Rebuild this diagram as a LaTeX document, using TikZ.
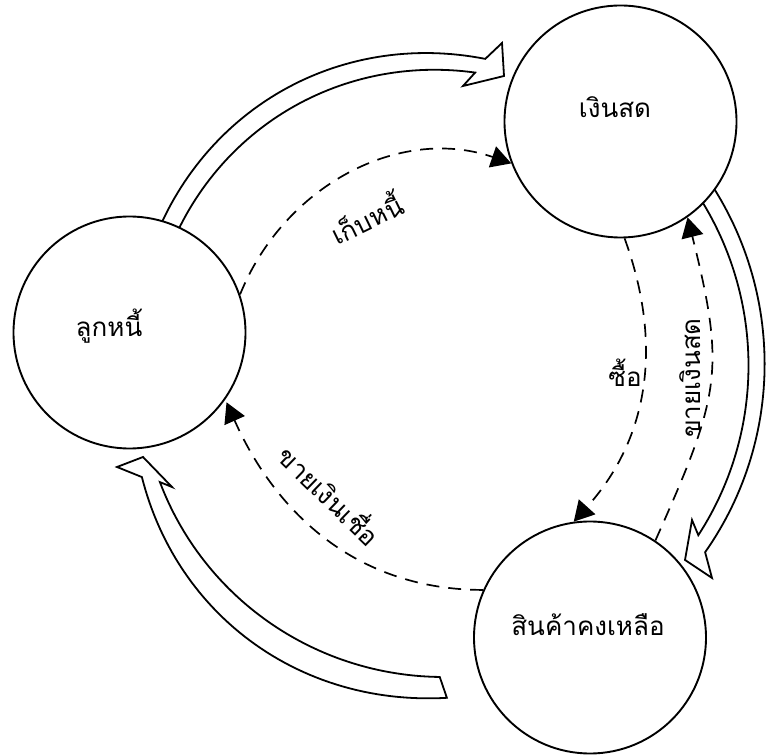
\documentclass[tikz,border=0pt]{standalone}
\usepackage{fontspec}
\newfontfamily\thaifont[Script=Thai]{Loma}
\usetikzlibrary{arrows.meta}
\begin{document}
\begin{tikzpicture}[x=1pt,y=1pt,
  circ/.style={circle, draw, line width=1.9pt, fill=white, minimum size=232pt, inner sep=0pt},
  lbl/.style={font=\thaifont\fontsize{26}{30}\selectfont, inner sep=0pt},
  hollow/.style={line width=1.8pt, line join=miter},
  flow/.style={line width=1.7pt, dash pattern=on 13pt off 9pt, -{Triangle[length=20pt,width=22pt]}}
]
\useasboundingbox (0,0) rectangle (767,755);
% hollow arrows
\draw[hollow] plot[domain=153:81, samples=60, variable=\t]
  ({436+(311+4*(153-\t)/72+6*sin(180*(153-\t)/72))*cos(\t)}, {385+(311+4*(153-\t)/72+6*sin(180*(153-\t)/72))*sin(\t)})
  -- (502,712) -- (504,679) -- (463,669)
  -- plot[domain=82.5:153, samples=60, variable=\t]
  ({436+(300-7*(\t-82.5)/70.5+3*sin(180*(153-\t)/70.5))*cos(\t)}, {385+(300-7*(\t-82.5)/70.5+3*sin(180*(153-\t)/70.5))*sin(\t)});
\draw[hollow] plot[domain=33:-34.1, samples=60, variable=\t]
  ({436+(332-7*(33-\t)/67.1)*cos(\t)}, {385+(332-7*(33-\t)/67.1)*sin(\t)})
  -- (712,177) -- (685,195) -- (692,235)
  -- plot[domain=-32.2:33, samples=60, variable=\t]
  ({436+(310+5*(\t+32.2)/65.2)*cos(\t)}, {385+(310+5*(\t+32.2)/65.2)*sin(\t)});
\draw[hollow] plot[domain=-88.1:-160, samples=60, variable=\t]
  ({436+(328-15*(-88.1-\t)/71.9+8*sin(180*(-88.1-\t)/71.9))*cos(\t)}, {385+(328-15*(-88.1-\t)/71.9+8*sin(180*(-88.1-\t)/71.9))*sin(\t)})
  -- (117,288) -- (143,298) -- (172,268)
  -- plot[domain=-157.9:-89.3, samples=60, variable=\t]
  ({436+(298+9*(\t+157.9)/68.6)*cos(\t)}, {385+(298+9*(\t+157.9)/68.6)*sin(\t)})
  -- cycle;
% circles
\node[circ] (cash) at (620.5,633.5) {};
\node[circ] (ar) at (129.5,422.5) {};
\node[circ] (inv) at (590,117.5) {};
% texts
\node[lbl] (tcash) at (615,648) {เงินสด};
\node[lbl] (tar) at (109,429) {ลูกหนี้};
\node[lbl] (tinv) at (588,130) {สินค้าคงเหลือ};
\node[lbl, rotate=26] (lcollect) at (366,538) {เก็บหนี้};
\node[lbl] (lbuy) at (625,382) {ซื้อ};
\node[lbl, rotate=90] (lsell) at (690,377) {ขายเงินสด};
\node[lbl, rotate=-44] (lcredit) at (331,261) {ขายเงินเชื่อ};
% dashed flows
\draw[flow] (ar.19) to[out=68, in=161] (cash.201);
\draw[flow] (cash.-88) to[out=-70, in=48] (inv.98);
\draw[flow] (inv.56) to[out=66, in=-76, looseness=1.25] (cash.-55);
\draw[flow, shorten >=3pt] (inv.156) to[out=180, in=-66] (ar.-35);
\end{tikzpicture}
\end{document}
